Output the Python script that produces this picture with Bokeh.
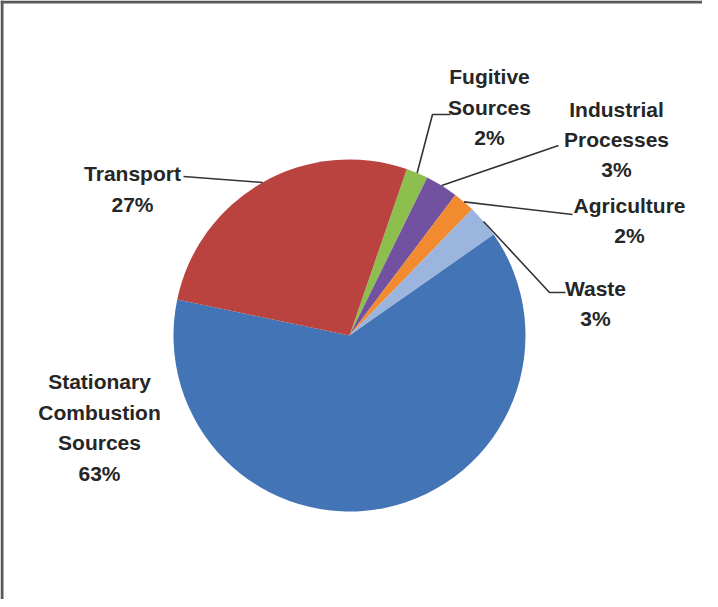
import numpy as np
from bokeh.plotting import figure
from bokeh.models import Span, Range1d, ColumnDataSource
from bokeh.core.properties import value
from bokeh.embed import file_html
from bokeh.resources import INLINE

# ---- data (clockwise from the top) ----
categories = ["Fugitive Sources", "Industrial Processes", "Agriculture", "Waste",
              "Stationary Combustion Sources", "Transport"]
shares = [2, 3, 2, 3, 63, 27]
label_lines = [["Fugitive", "Sources"], ["Industrial", "Processes"], ["Agriculture"],
               ["Waste"], ["Stationary", "Combustion", "Sources"], ["Transport"]]
colors = ["#8CBF4E", "#7151A0", "#F28A30", "#9BB5DF", "#4274B6", "#BA4340"]

# ---- layout ----
W, H = 702, 599
OFF = 8  # page margin


def px(X):
    return X - OFF


def py(Y):
    return H + OFF - Y


CX, CY, R = px(357), py(343), 176
START_DEG = 71.0
FONT = "Liberation Sans"
FS = "21px"

# label line centres (page pixels) and leader elbows (page pixels, label side first)
label_x = [497, 624, 637, 603, 107, 140]
label_y0 = [84, 117, 213, 296, 389, 181]
line_gap = [30.5, 30, 30, 30, 30.7, 30.5]
leaders = [[(458, 122), (440, 122)], [(566, 153)], [(580, 222)],
           [(573, 300), (557, 300)], [], [(191, 184)]]

p = figure(width=W, height=H, x_range=Range1d(0, W), y_range=Range1d(0, H),
           output_backend="svg", toolbar_location=None, min_border=0,
           x_axis_location=None, y_axis_location=None)
p.grid.visible = False
p.outline_line_color = None
p.background_fill_color = "white"
p.border_fill_color = "white"

vals = np.array(shares, dtype=float)
ang = vals / vals.sum() * 2 * np.pi
ends = np.deg2rad(START_DEG) - np.cumsum(ang)
starts = ends + ang
mids = (starts + ends) / 2

src = ColumnDataSource(dict(cat=categories, lo=ends, hi=starts, color=colors))
p.wedge(x=CX, y=CY, radius=R, start_angle="lo", end_angle="hi",
        fill_color="color", line_color=None, source=src)

# leader lines
xs, ys = [], []
for i, pts in enumerate(leaders):
    if not pts:
        continue
    lx = [px(a) for a, b in pts] + [CX + R * np.cos(mids[i])]
    ly = [py(b) for a, b in pts] + [CY + R * np.sin(mids[i])]
    xs.append(lx)
    ys.append(ly)
p.multi_line(xs=xs, ys=ys, line_color="#333333", line_width=1.6)

# labels
tx, ty, tt = [], [], []
for i, lines in enumerate(label_lines):
    full = lines + [f"{shares[i]}%"]
    for j, t in enumerate(full):
        tx.append(px(label_x[i]))
        ty.append(py(label_y0[i] + j * line_gap[i]))
        tt.append(t)
p.text(x=tx, y=ty, text=tt, text_align="center", text_baseline="middle",
       text_font=value(FONT), text_font_size=FS, text_font_style="bold",
       text_color="#262626")

# frame edges (top and left)
p.add_layout(Span(location=H - 1.5, dimension="width", line_color="#5a5a5a", line_width=3))
p.add_layout(Span(location=1.5, dimension="height", line_color="#5a5a5a", line_width=3))

open("out.html", "w").write(file_html(p, INLINE))
